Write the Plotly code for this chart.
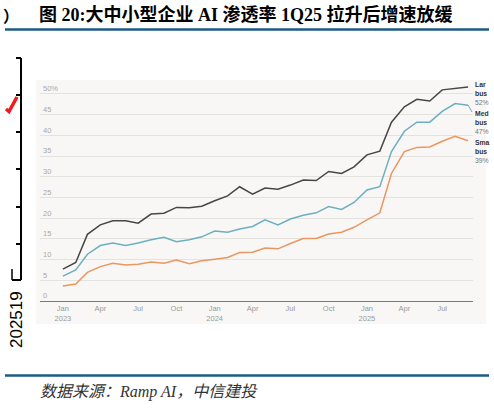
import pandas as pd
import plotly.graph_objects as go

# monthly observations, Jan 2023 .. Sep 2025
months = pd.date_range("2023-01-01", "2025-09-01", freq="MS")

large = [7.7, 9.3, 16.1, 18.4, 19.4, 19.4, 18.8, 21.0, 21.2, 22.6, 22.5, 22.9,
         24.2, 25.4, 27.6, 25.8, 27.3, 27.0, 28.0, 29.2, 29.1, 31.3, 30.8, 32.4,
         35.3, 36.2, 43.2, 46.9, 48.7, 48.3, 51.0, 51.3, 51.7]
medium = [6.0, 7.5, 11.3, 13.4, 14.0, 13.4, 14.0, 14.8, 15.4, 14.3, 14.8, 15.5,
          16.9, 16.6, 17.4, 18.0, 19.6, 18.4, 19.8, 20.7, 21.3, 22.8, 22.1, 23.8,
          26.8, 27.6, 36.1, 41.0, 43.2, 43.2, 45.8, 47.7, 47.3]
small = [3.6, 4.1, 6.9, 8.3, 9.1, 8.7, 8.9, 9.4, 9.1, 9.9, 9.0, 9.7,
         10.1, 10.5, 11.7, 11.8, 12.8, 12.6, 13.9, 15.1, 15.1, 16.2, 16.6, 17.8,
         19.6, 21.3, 30.8, 36.1, 37.1, 37.2, 38.6, 39.8, 38.7]

series_names = ["Large", "Medium", "Small"]
# end labels are cut off at the right edge in the source screenshot
end_labels = [("Lar", "bus", "52%"), ("Med", "bus", "47%"), ("Sma", "bus", "39%")]
colors = ["#464646", "#6cb0c0", "#ea9660"]

x_ticks = ["2023-01-01", "2023-04-01", "2023-07-01", "2023-10-01",
           "2024-01-01", "2024-04-01", "2024-07-01", "2024-10-01",
           "2025-01-01", "2025-04-01", "2025-07-01"]
x_ticktext = ["Jan<br>2023", "Apr", "Jul", "Oct", "Jan<br>2024", "Apr", "Jul",
              "Oct", "Jan<br>2025", "Apr", "Jul"]
y_ticks = [0, 5, 10, 15, 20, 25, 30, 35, 40, 45, 50]
y_ticktext = ["0", "5", "10", "15", "20", "25", "30", "35", "40", "45", "50%"]

title = "图 20:大中小型企业 AI 渗透率 1Q25 拉升后增速放缓"
source = "数据来源：Ramp AI，中信建投"

W, H = 494, 408
Y_TOP = 53.3  # a little headroom above the 50% line, like the source


def px(x):
    return x / W


def py(y):
    return 1 - y / H


fig = go.Figure()
for name, vals, col in zip(series_names, [large, medium, small], colors):
    fig.add_trace(go.Scatter(x=months, y=vals, mode="lines", name=name,
                             line=dict(color=col, width=1.5), cliponaxis=False))

# ── chart panel and page furniture ──
shapes = [
    dict(type="rect", xref="paper", yref="paper", x0=px(36), x1=px(486),
         y0=py(324), y1=py(80), fillcolor="#f8f7f5", line_width=0, layer="below"),
    dict(type="line", xref="paper", yref="paper", x0=px(5), x1=px(489),
         y0=py(29.5), y1=py(29.5), line=dict(color="#1d5a86", width=2.5)),
    dict(type="line", xref="paper", yref="paper", x0=px(5), x1=px(489),
         y0=py(375.5), y1=py(375.5), line=dict(color="#1d5a86", width=2.5)),
    # left bracket
    dict(type="line", xref="paper", yref="paper", x0=px(21), x1=px(21),
         y0=py(58), y1=py(280), line=dict(color="black", width=2)),
    dict(type="line", xref="paper", yref="paper", x0=px(12), x1=px(21),
         y0=py(280), y1=py(280), line=dict(color="black", width=2)),
    dict(type="line", xref="paper", yref="paper", x0=px(12), x1=px(12),
         y0=py(269), y1=py(280), line=dict(color="black", width=1.5)),
    # red check mark
    dict(type="path", xref="paper", yref="paper",
         path=f"M {px(6)},{py(109)} L {px(9)},{py(111.5)} L {px(17)},{py(97)}",
         line=dict(color="#ee1c1c", width=3.5)),
]
for ty in [58, 95, 132, 169, 207, 244]:
    shapes.append(dict(type="line", xref="paper", yref="paper", x0=px(16), x1=px(21),
                       y0=py(ty), y1=py(ty), line=dict(color="black", width=2)))
# leader from medium line end to its label
shapes.append(dict(type="line", xref="paper", yref="paper", x0=px(468), x1=px(472),
                   y0=py(105), y1=py(112), line=dict(color=colors[1], width=1)))

annotations = [
    dict(text=title, x=px(37), y=py(15), xref="paper", yref="paper",
         xanchor="left", yanchor="middle", showarrow=False,
         font=dict(family="Liberation Serif, Noto Sans CJK SC", size=18,
                   color="black", weight="bold")),
    dict(text="）", x=px(1), y=py(15), xref="paper", yref="paper",
         xanchor="left", yanchor="middle", showarrow=False,
         font=dict(family="Noto Sans CJK SC", size=16, color="black", weight="bold")),
    dict(text=source, x=px(38), y=py(392), xref="paper", yref="paper",
         xanchor="left", yanchor="middle", showarrow=False,
         font=dict(family="Liberation Serif, Noto Sans CJK SC", size=16,
                   color="#333333", style="italic")),
    dict(text="202519", x=px(16), y=py(320), xref="paper", yref="paper",
         xanchor="center", yanchor="middle", textangle=-90, showarrow=False,
         font=dict(family="Liberation Sans", size=17, color="black")),
]
label_tops = [80, 109, 138]
for (l1, l2, l3), top in zip(end_labels, label_tops):
    annotations.append(dict(
        text=f"<b>{l1}</b><br><b>{l2}</b><br><span style='color:#777777'>{l3}</span>",
        x=px(474), y=py(top), xref="paper", yref="paper",
        xanchor="left", yanchor="top", align="left", showarrow=False,
        borderpad=0, font=dict(family="Liberation Sans", size=6.8, color="#333333")))

fig.update_layout(
    width=W, height=H,
    margin=dict(l=0, r=0, t=0, b=0),
    paper_bgcolor="white",
    plot_bgcolor="rgba(0,0,0,0)",
    showlegend=False,
    shapes=shapes,
    annotations=annotations,
    xaxis=dict(
        domain=[px(40), px(473)],
        range=["2022-11-07", "2025-09-13"],
        tickmode="array", tickvals=x_ticks, ticktext=x_ticktext,
        showgrid=False, zeroline=False,
        showline=True, linecolor="#7a7a7a", linewidth=1,
        ticks="", tickfont=dict(family="Liberation Sans", size=7.5, color="#9a9a9a"),
    ),
    yaxis=dict(
        domain=[py(301), py(301 - Y_TOP * 4.14)],
        range=[0, Y_TOP],
        tickmode="array", tickvals=y_ticks, ticktext=y_ticktext,
        ticklabelposition="inside top",
        showgrid=True, gridcolor="#e4e2de", gridwidth=1,
        zeroline=False, showline=False, ticks="",
        tickfont=dict(family="Liberation Sans", size=7.5, color="#a8a8a8"),
    ),
)

# the page's default body margin would push the figure 8px off the corner
fig.write_html("out.html", config={"displayModeBar": False},
               post_script="document.body.style.margin='0';")
